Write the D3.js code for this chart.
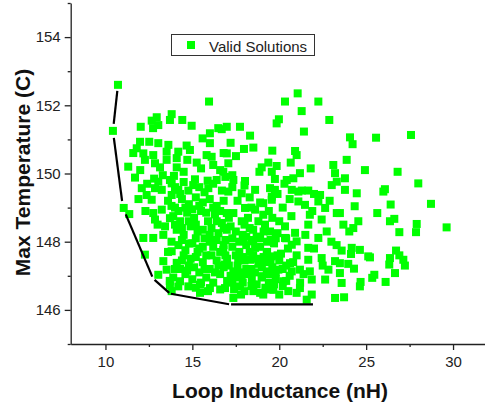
<!DOCTYPE html>
<html><head><meta charset="utf-8">
<script src="https://cdn.jsdelivr.net/npm/d3@7"></script>
<style>body{margin:0;background:#fff} svg{display:block}</style>
</head><body><svg id="c" width="485" height="408"></svg>
<script>
const xTicks = [10, 15, 20, 25, 30];
const xMinor = [12.5, 17.5, 22.5, 27.5];
const yTicks = [146, 148, 150, 152, 154];
const yMinor = [145, 147, 149, 151, 153, 155];
const xTitle = "Loop Inductance (nH)";
const yTitle = "Max Temperature (C)";
const legendLabel = "Valid Solutions";

// Pareto front (black line)
const paretoX = [10.72, 10.43, 11.01, 12.74, 13.71, 17.17, 21.94];
const paretoY = [152.60, 151.25, 148.99, 146.92, 146.48, 146.16, 146.16];

// Valid solutions (green squares) [inductance nH, max temperature C]
const solutions = [
[10.72,152.60],[10.43,151.25],[11.05,148.99],[11.37,148.81],
[15.96,152.11],[13.81,151.74],[12.95,151.65],[12.66,151.55],[13.04,151.42],[12.74,151.33],[13.71,151.57],[14.42,151.57],[14.96,151.40],[12.03,151.37],[16.01,151.18],[16.49,151.33],[15.59,151.03],[16.01,150.89],[11.99,150.93],[12.52,150.93],[11.80,150.74],[13.04,150.89],[13.62,150.84],[13.52,150.64],[14.67,150.82],[14.86,150.69],[12.18,150.59],[12.75,150.54],[14.19,150.64],[12.27,150.40],[12.85,150.30],[13.52,150.40],[14.10,150.45],[14.71,150.40],[15.25,150.32],[15.82,150.54],[16.11,150.49],[16.20,150.25],[13.14,150.18],[14.10,150.18],[11.31,150.20],[11.70,149.88],[13.04,149.76],[13.71,149.81],[13.94,149.93],[15.15,149.83],[15.88,149.79],[12.09,149.57],[12.85,149.57],[13.24,149.52],[13.81,149.71],[14.19,149.52],[14.77,149.50],[15.05,149.66],[15.92,149.57],[12.37,149.37],[13.81,149.37],[16.40,149.81],
[21.06,152.35],[20.33,152.11],[22.25,152.11],[21.29,151.83],[19.98,151.59],[19.85,151.47],[22.88,151.57],[21.42,151.23],[16.98,151.37],[17.74,151.37],[16.69,151.30],[18.32,151.11],[16.98,150.59],[17.51,150.51],[17.97,150.72],[18.51,150.76],[19.60,150.67],[20.91,150.66],[21.00,150.54],[17.07,150.30],[19.37,150.32],[19.85,150.22],[18.99,150.18],[20.66,150.32],[21.81,150.15],[23.11,150.25],[23.21,150.01],[16.78,150.05],[18.86,150.05],[19.57,150.05],[21.19,150.01],[17.36,149.81],[18.03,149.78],[19.75,149.84],[20.43,149.81],[20.81,149.86],[23.02,149.66],[23.31,149.76],[17.07,149.47],[17.84,149.42],[18.61,149.52],[19.47,149.57],[19.75,149.52],[20.72,149.52],[21.10,149.47],[21.67,149.50],[22.35,149.37],[19.57,149.32],
[24.07,151.06],[24.22,150.86],[25.57,151.05],[27.58,151.13],[23.88,150.40],[24.93,150.10],[26.81,150.05],[23.78,149.86],[28.00,149.71],[23.78,149.52],[24.46,149.42],[26.08,149.54],[25.99,149.47],
[24.34,149.04],[26.41,149.09],[28.73,149.11],[25.64,148.84],[23.49,148.84],[24.55,148.60],[23.69,148.50],[24.26,148.40],[24.03,148.30],[26.37,148.60],[26.62,148.67],[27.91,148.52],[26.91,148.28],[27.87,148.28],[29.63,148.42],[23.59,147.74],[24.17,147.82],[24.13,147.64],[24.64,147.76],[25.12,147.57],[25.22,147.54],[26.72,147.74],[26.37,147.52],[26.91,147.60],[27.14,147.47],[26.33,147.33],[27.23,147.30],[26.66,147.08],[23.49,147.37],[23.97,147.35],[24.30,147.21],[23.49,147.08],[25.47,147.03],[25.35,146.94],[26.12,146.82],[24.68,146.82],[24.64,146.69],[23.59,146.79],[23.73,146.37],
[12.18,148.11],[12.75,148.11],[12.27,147.62],[13.33,147.43],[13.04,147.03],[13.71,146.72],[13.81,146.55],[12.66,149.23],[12.75,148.84],[13.24,148.94],[12.85,148.65],[13.43,148.45],[13.33,148.20],[13.71,148.69],[13.52,147.18],[13.81,147.72],[14.10,147.38],[14.29,146.84],[14.19,146.69],[14.77,146.69],[15.44,146.50],[16.01,146.64],[15.44,146.74],
[17.36,146.35],[21.58,146.30],[21.87,146.45],[23.21,146.35],[20.52,146.55],[19.66,146.59],[19.08,146.45],[18.51,146.55],[17.74,146.69],[16.88,146.64],[21.19,146.64],[21.67,147.47],[21.76,147.13],[21.87,146.89],[22.64,146.89],[22.83,147.18],[22.44,147.52],[23.21,147.43],[22.25,148.11],[22.73,148.30],[22.44,148.65],[21.67,148.50],[21.76,148.79],[21.48,149.08],[21.10,149.18],[22.25,149.18],[22.64,148.99],[23.31,148.84],[20.91,148.26],[21.00,148.01],[20.33,148.45],[20.72,147.91],[20.33,148.11],[19.66,148.01],[19.47,148.30],[19.18,148.50],[19.08,148.79],[18.61,148.94],[19.08,149.13],[19.57,149.23],[17.84,148.60],[18.03,148.99],[17.36,148.84],[16.98,148.84],[16.98,148.35],[17.94,148.06],[18.42,148.01],[19.28,147.62],[19.57,147.57],[20.62,147.37],[20.72,147.13],[19.95,147.18],[19.28,147.13],[18.99,146.99],[18.42,146.89],[17.84,146.99],[17.36,147.13],[16.88,147.33],[17.64,147.52],[18.32,147.47],[21.67,147.82],[21.19,147.18],[20.23,146.84],[16.78,147.76],[18.61,147.82],
[13.6,149.2],[14.0,149.0],[14.4,149.25],[14.8,149.1],[15.2,149.3],[15.6,149.15],[16.0,149.25],[16.4,149.05],[16.8,149.2],
[13.9,148.75],[14.3,148.6],[14.7,148.85],[15.1,148.7],[15.5,148.9],[15.9,148.6],[16.3,148.8],[16.7,148.55],[17.1,148.7],
[14.1,148.35],[14.5,148.2],[14.9,148.45],[15.3,148.3],[15.7,148.1],[16.1,148.4],[16.5,148.25],[16.9,148.05],
[14.2,147.9],[14.6,147.75],[15.0,147.95],[15.4,147.8],[15.8,147.6],[16.2,147.85],[16.6,147.7],[17.0,147.5],
[14.4,147.45],[14.8,147.3],[15.2,147.55],[15.6,147.4],[16.0,147.2],[16.4,147.45],[16.8,147.25],[17.2,147.0],
[14.6,147.05],[15.0,146.9],[15.4,147.1],[15.8,146.95],[16.2,146.8],[16.6,147.05],[17.0,146.85],[17.4,146.6],
[13.9,146.95],[15.2,146.65],[15.9,146.55],[16.6,146.6],[17.8,146.45],[13.8,148.0],[13.6,147.7],[14.0,147.2],[13.7,146.85],
[17.5,148.3],[17.9,148.2],[18.3,148.4],[18.7,148.15],[19.1,148.3],[19.5,148.05],[19.9,148.25],[20.4,148.1],
[17.3,147.85],[17.7,147.7],[18.1,147.9],[18.5,147.6],[18.9,147.85],[19.3,147.7],[19.7,147.95],[20.1,147.65],[20.5,147.8],[21.0,147.6],
[17.6,147.3],[18.0,147.45],[18.4,147.2],[18.8,147.35],[19.2,147.4],[19.6,147.25],[20.0,147.45],[20.4,147.3],[20.8,147.4],
[17.5,146.95],[17.9,146.8],[18.2,147.05],[18.7,146.75],[19.0,146.95],[19.4,146.8],[19.8,146.9],[20.2,146.7],[20.6,147.0],[21.2,146.8],
[18.0,146.55],[18.9,146.5],[19.5,146.6],[20.0,146.45],[21.0,146.5],[21.4,147.05],
[14.0,149.6],[14.5,149.75],[15.4,149.6],[16.2,149.7],[16.7,149.5],[14.3,149.4],[15.7,149.45],[16.9,149.9],[16.6,150.1],[15.5,150.15],[14.5,150.05],[13.3,149.95],[12.8,149.85],[13.0,148.5],[16.8,150.6],[17.2,150.9],[17.3,149.95],
[17.6,149.2],[18.3,149.3],[18.9,149.15],[19.9,149.4],[20.2,149.0],[20.6,149.25],[18.2,148.7],[18.8,148.6],[19.6,148.7],[20.0,148.6],[20.7,148.75],[17.3,149.6],[18.0,149.65],[20.3,149.7],
[21.5,148.2],[22.0,147.8],[21.3,149.5],[22.0,149.4],[22.9,149.2],[23.0,148.0],[22.5,147.3],[23.3,147.9],[21.9,148.9],
[11.6,150.6],[12.0,150.1],[12.4,149.7],[11.9,149.25],[12.3,148.9],
[13.8,149.05],[14.2,148.9],[14.6,149.0],[15.0,148.95],[15.4,149.05],[15.8,148.85],[16.2,149.0],[16.6,148.9],
[14.0,148.5],[14.4,148.4],[14.8,148.6],[15.2,148.5],[15.6,148.35],[16.0,148.2],[16.4,148.6],[16.8,148.4],
[14.4,148.05],[14.8,147.95],[15.2,148.1],[15.6,147.85],[16.0,148.0],[16.4,148.05],[16.8,147.9],
[14.5,147.6],[14.9,147.5],[15.3,147.7],[15.7,147.2],[16.1,147.6],[16.5,147.3],[16.9,147.6],
[14.3,147.2],[14.7,147.15],[15.1,147.25],[15.5,146.8],[16.3,147.1],[17.1,147.3],
[17.3,148.1],[17.7,148.0],[18.1,148.15],[18.5,148.05],[18.9,148.1],[19.3,148.0],[19.8,148.1],
[17.5,147.6],[17.9,147.55],[18.3,147.7],[18.7,147.5],[19.1,147.55],[19.5,147.45],[19.9,147.6],
[17.7,147.1],[18.1,147.2],[18.6,147.1],[19.0,147.25],[19.4,147.05],[19.8,147.1],[20.2,147.2],
[17.3,146.8],[18.4,146.7],[19.2,146.65],[19.7,146.75],[20.4,146.85],
[18.0,148.5],[18.5,148.35],[17.2,148.45],[19.4,148.9],[18.4,149.0]
];

const svg = d3.select("#c");
const FONT = "'Liberation Sans', Arial, Helvetica, sans-serif";
const x = d3.scaleLinear().domain([8, 32]).range([70.7, 487.8]);
const y = d3.scaleLinear().domain([145, 155]).range([344, 3]);

// minor ticks
svg.append("g").attr("transform", "translate(0,344)")
  .call(d3.axisBottom(x).tickValues(xMinor).tickSize(3).tickSizeOuter(0).tickFormat(""))
  .call(g => g.select(".domain").remove());
svg.append("g").attr("transform", "translate(70.7,0)")
  .call(d3.axisLeft(y).tickValues(yMinor).tickSize(3).tickSizeOuter(0).tickFormat(""))
  .call(g => g.select(".domain").remove());

// major axes
const gx = svg.append("g").attr("transform", "translate(0,344)")
  .call(d3.axisBottom(x).tickValues(xTicks).tickSize(6).tickSizeOuter(0).tickPadding(6).tickFormat(d3.format("d")));
const gy = svg.append("g").attr("transform", "translate(70.7,0)")
  .call(d3.axisLeft(y).tickValues(yTicks).tickSize(6).tickSizeOuter(0).tickPadding(4).tickFormat(d3.format("d")));
[gx, gy].forEach(g => {
  g.selectAll("text").attr("font-family", FONT).attr("font-size", 15).attr("fill", "#222");
});
svg.selectAll(".domain, .tick line").attr("stroke", "#222").attr("stroke-width", 1.3);

// scatter
svg.append("g").selectAll("rect").data(solutions).join("rect")
  .attr("x", d => x(d[0]) - 4).attr("y", d => y(d[1]) - 4)
  .attr("width", 8).attr("height", 8).attr("fill", "#00ff00");

// pareto line with gaps near symbols
const lineGapPx = [6, 7, 7, 2, 1, 1, 0];
const pts = paretoX.map((v, i) => [x(v), y(paretoY[i])]);
const segs = [];
for (let i = 0; i < pts.length - 1; i++) {
  const [x0, y0] = pts[i], [x1, y1] = pts[i + 1];
  const L = Math.hypot(x1 - x0, y1 - y0), ux = (x1 - x0) / L, uy = (y1 - y0) / L;
  segs.push([[x0 + ux * lineGapPx[i], y0 + uy * lineGapPx[i]], [x1 - ux * lineGapPx[i + 1], y1 - uy * lineGapPx[i + 1]]]);
}
svg.append("g").selectAll("path").data(segs).join("path")
  .attr("d", d => d3.line()(d)).attr("stroke", "#000").attr("stroke-width", 2.2)
  .attr("fill", "none").attr("stroke-linecap", "butt");

// axis titles
svg.append("text").attr("x", 280).attr("y", 398).attr("text-anchor", "middle")
  .attr("font-family", FONT).attr("font-weight", "bold").attr("font-size", 21).attr("fill", "#111").text(xTitle);
svg.append("text").attr("transform", "translate(29.5,172.5) rotate(-90)").attr("text-anchor", "middle")
  .attr("font-family", FONT).attr("font-weight", "bold").attr("font-size", 21).attr("fill", "#111").text(yTitle);

// legend
const lg = svg.append("g");
lg.append("rect").attr("x", 171.5).attr("y", 34.5).attr("width", 143).attr("height", 21)
  .attr("fill", "#fff").attr("stroke", "#333").attr("stroke-width", 1);
lg.append("rect").attr("x", 187).attr("y", 41).attr("width", 8).attr("height", 8).attr("fill", "#00ff00");
lg.append("text").attr("x", 209).attr("y", 51.5).attr("font-family", FONT).attr("font-size", 15)
  .attr("fill", "#222").text(legendLabel);
</script></body></html>
